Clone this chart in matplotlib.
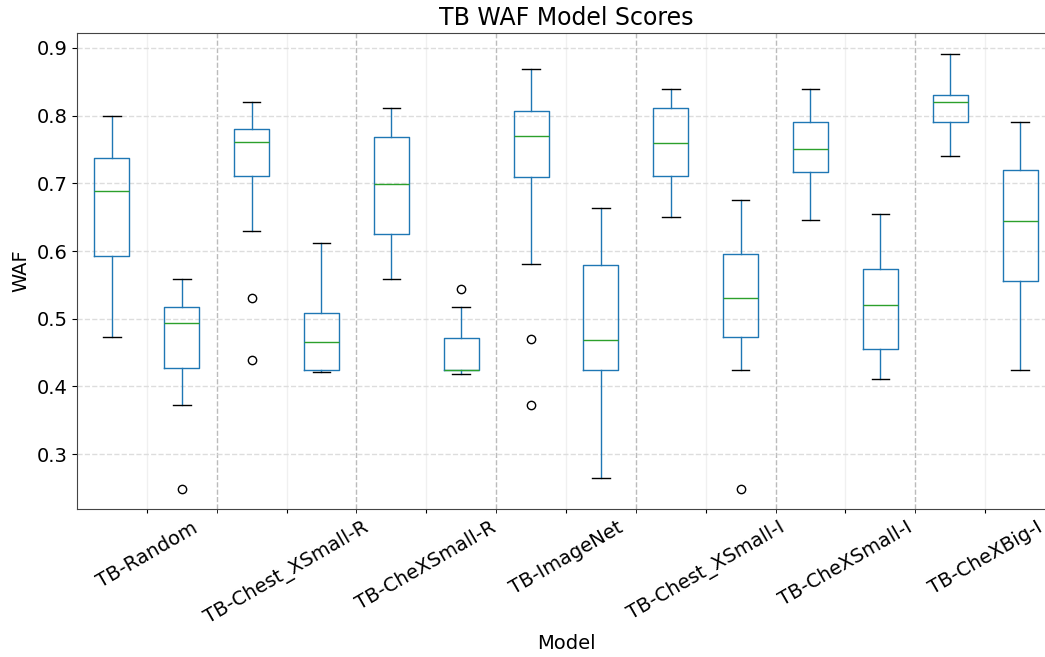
import matplotlib
matplotlib.use("Agg")
import matplotlib.pyplot as plt
from matplotlib.ticker import FixedLocator

# model names, one label per pair of boxes
models = ["TB-Random", "TB-Chest_XSmall-R", "TB-CheXSmall-R", "TB-ImageNet",
          "TB-Chest_XSmall-I", "TB-CheXSmall-I", "TB-CheXBig-I"]

# box statistics, 14 boxes (two per model)
whislo = [0.473, 0.373, 0.630, 0.422, 0.559, 0.418, 0.581,
          0.265, 0.650, 0.425, 0.646, 0.411, 0.740, 0.425]
q1 = [0.593, 0.427, 0.711, 0.425, 0.625, 0.425, 0.709,
      0.425, 0.711, 0.473, 0.716, 0.456, 0.790, 0.556]
med = [0.688, 0.493, 0.761, 0.465, 0.699, 0.425, 0.770,
       0.468, 0.759, 0.531, 0.751, 0.520, 0.820, 0.645]
q3 = [0.738, 0.517, 0.780, 0.508, 0.769, 0.472, 0.807,
      0.579, 0.811, 0.595, 0.790, 0.574, 0.830, 0.719]
whishi = [0.799, 0.559, 0.820, 0.612, 0.811, 0.517, 0.869,
          0.664, 0.840, 0.676, 0.840, 0.655, 0.891, 0.790]
fliers = [[], [0.249], [0.531, 0.439], [], [], [0.544], [0.470, 0.373],
          [], [], [0.249], [], [], [], []]

stats = []
for i in range(len(med)):
    stats.append(dict(whislo=whislo[i], q1=q1[i], med=med[i], q3=q3[i],
                      whishi=whishi[i], fliers=fliers[i]))

fig = plt.figure(figsize=(10.45, 6.57), dpi=100)
ax = fig.add_axes([77 / 1045, 1 - 509 / 657, 978 / 1045, 476 / 657])

ax.bxp(stats, positions=range(1, 15), widths=0.5,
       boxprops=dict(color="#1f77b4"),
       whiskerprops=dict(color="#1f77b4"),
       capprops=dict(color="black"),
       medianprops=dict(color="#2ca02c"),
       flierprops=dict(marker="o", markerfacecolor="none",
                       markeredgecolor="black", markersize=6))

ax.set_xlim(0.5, 14.5)
ax.set_ylim(0.219, 0.922)

# labels sit between each pair, dashed separators between models
ax.xaxis.set_major_locator(FixedLocator([1.5 + 2 * k for k in range(7)]))
ax.xaxis.set_minor_locator(FixedLocator([2.5 + 2 * k for k in range(6)]))
ax.set_xticklabels(models, rotation=30, fontsize=14)
ax.set_yticks([0.3, 0.4, 0.5, 0.6, 0.7, 0.8, 0.9])
ax.tick_params(axis="y", labelsize=14)
ax.tick_params(axis="x", which="both", length=3)

ax.grid(axis="x", which="major", color="#f0f0f0", linestyle="-", linewidth=1)
ax.grid(axis="x", which="minor", color="#bbbbbb", linestyle="--", linewidth=1)
ax.grid(axis="y", which="major", color="#dddddd", linestyle="--", linewidth=1)
ax.set_axisbelow(True)

for s in ax.spines.values():
    s.set_color("#444444")
ax.spines["right"].set_visible(False)

ax.set_title("TB WAF Model Scores", fontsize=17)
ax.set_xlabel("Model", fontsize=14)
ax.set_ylabel("WAF", fontsize=14)

fig.savefig("out.png", dpi=100)
